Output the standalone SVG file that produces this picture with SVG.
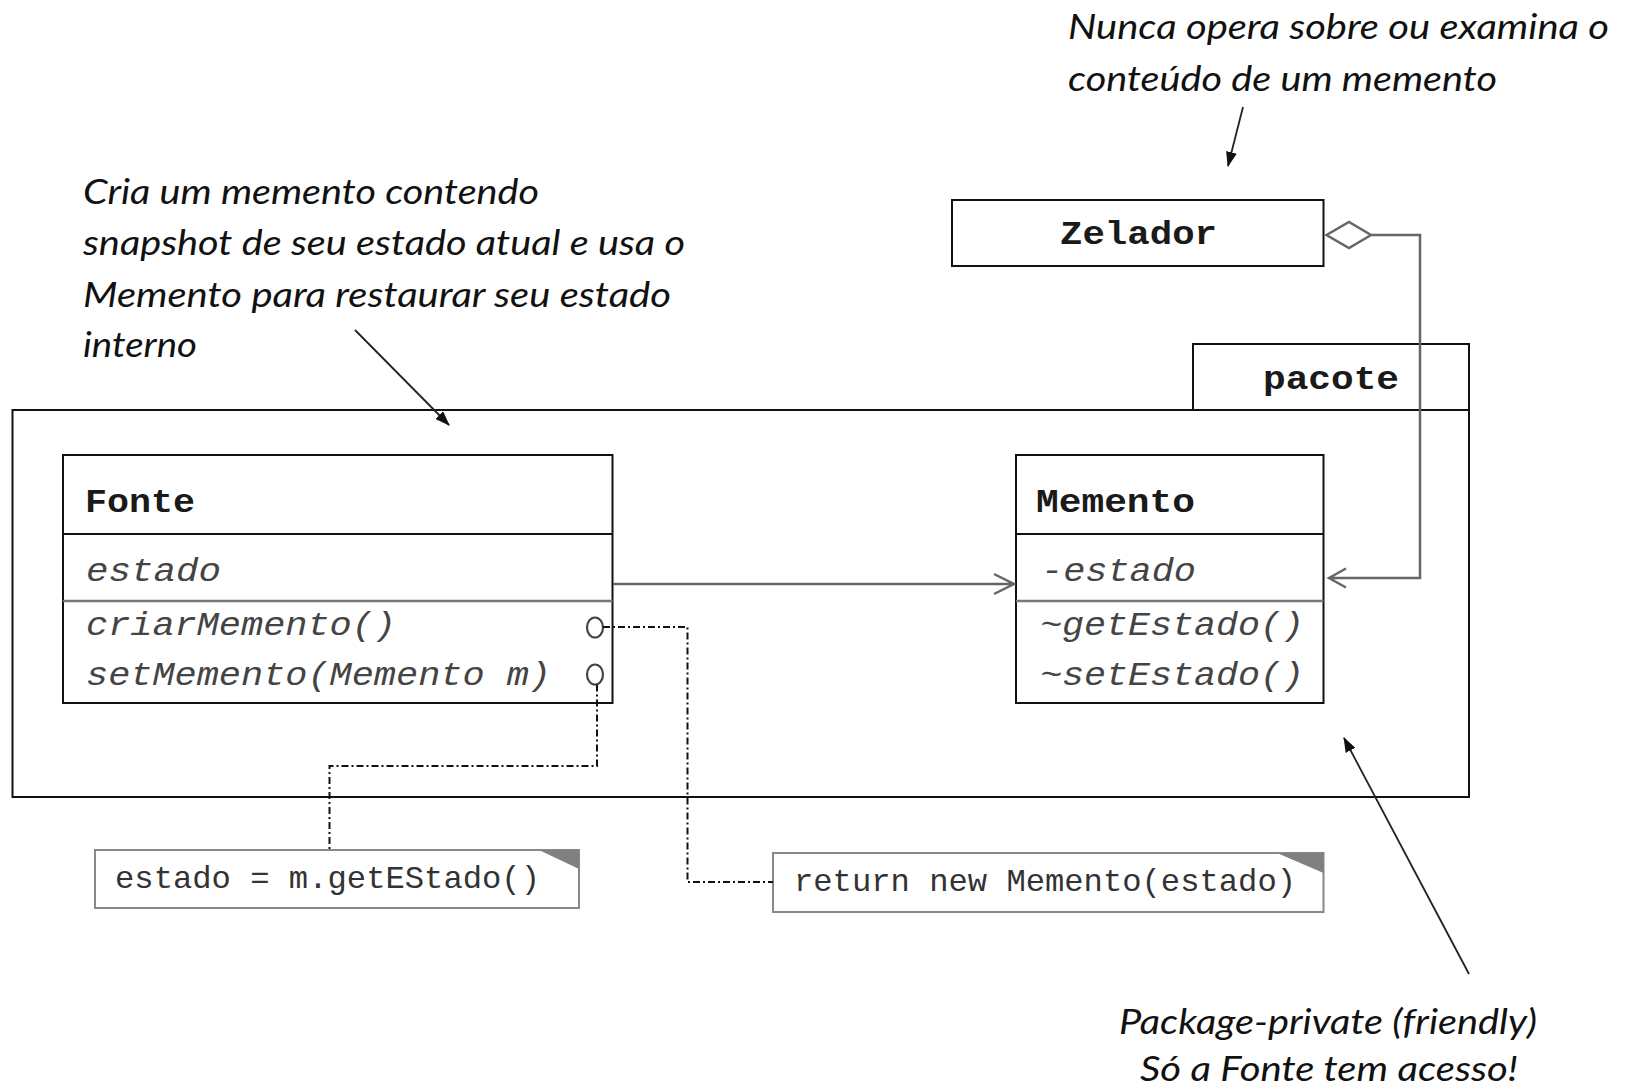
<svg xmlns="http://www.w3.org/2000/svg" width="1625" height="1088" viewBox="0 0 1625 1088">
<style>
.note{font-family:Lato,"Open Sans","Liberation Sans",sans-serif;font-style:italic;font-size:34px;fill:#111}
.hdr{font-family:"Liberation Mono","DejaVu Sans Mono",monospace;font-weight:bold;font-size:34px;fill:#1a1a1a}
.mono{font-family:"Liberation Mono","DejaVu Sans Mono",monospace;font-size:32px;fill:#333}
.it{font-family:"Liberation Mono","DejaVu Sans Mono",monospace;font-style:italic;font-size:33px;fill:#444}
.box{fill:#fff;stroke:#111;stroke-width:2}
.div{stroke:#111;stroke-width:2}
.div2{stroke:#777;stroke-width:2.5}
.nbox{fill:#fff;stroke:#888;stroke-width:2}
.fold{fill:#808080}
.conn{fill:none;stroke:#666;stroke-width:2.5}
.dd{fill:none;stroke:#111;stroke-width:2;stroke-dasharray:7 3 2 3}
.ann{fill:none;stroke:#222;stroke-width:1.8}
.anc{fill:none;stroke:#444;stroke-width:2.2}
</style>
<defs>
<marker id="fill" viewBox="0 0 15 11" refX="14" refY="5.5" markerWidth="15" markerHeight="11" markerUnits="userSpaceOnUse" orient="auto">
<path d="M0,0 L15,5.5 L0,11 Z" fill="#111"/>
</marker>
</defs>

<g id="note-top">
<text class="note" x="1068" y="39" textLength="541" lengthAdjust="spacingAndGlyphs">Nunca opera sobre ou examina o</text>
<text class="note" x="1068" y="91" textLength="429" lengthAdjust="spacingAndGlyphs">conteúdo de um memento</text>
</g>

<g id="note-left">
<text class="note" x="83" y="204" textLength="456" lengthAdjust="spacingAndGlyphs">Cria um memento contendo</text>
<text class="note" x="83" y="255" textLength="602" lengthAdjust="spacingAndGlyphs">snapshot de seu estado atual e usa o</text>
<text class="note" x="83" y="307" textLength="588" lengthAdjust="spacingAndGlyphs">Memento para restaurar seu estado</text>
<text class="note" x="83" y="357" textLength="114" lengthAdjust="spacingAndGlyphs">interno</text>
</g>

<g id="note-bottom">
<text class="note" x="1119" y="1034" textLength="418" lengthAdjust="spacingAndGlyphs">Package-private (friendly)</text>
<text class="note" x="1140" y="1081" textLength="378" lengthAdjust="spacingAndGlyphs">Só a Fonte tem acesso!</text>
</g>

<g id="pacote">
<rect class="box" x="1193" y="344" width="276" height="66"/>
<rect x="12.5" y="410" width="1456.5" height="387" fill="none" stroke="#111" stroke-width="2"/>
<text class="hdr" x="1263" y="389" textLength="136" lengthAdjust="spacingAndGlyphs">pacote</text>
</g>

<g id="zelador">
<rect class="box" x="952" y="200" width="371.5" height="66"/>
<text class="hdr" x="1060" y="244" textLength="157" lengthAdjust="spacingAndGlyphs">Zelador</text>
</g>

<g id="fonte">
<rect class="box" x="63" y="455" width="549.5" height="248"/>
<line class="div" x1="63" y1="534" x2="612.5" y2="534"/>
<line class="div2" x1="63" y1="601" x2="612.5" y2="601"/>
<text class="hdr" x="85" y="512" textLength="110" lengthAdjust="spacingAndGlyphs">Fonte</text>
<text class="it" x="86" y="581" textLength="135" lengthAdjust="spacingAndGlyphs">estado</text>
<text class="it" x="86" y="635" textLength="310" lengthAdjust="spacingAndGlyphs">criarMemento()</text>
<text class="it" x="86" y="685" textLength="465" lengthAdjust="spacingAndGlyphs">setMemento(Memento m)</text>
<ellipse class="anc" cx="595" cy="627.5" rx="8" ry="10"/>
<ellipse class="anc" cx="595" cy="674.5" rx="8" ry="10"/>
</g>

<g id="memento">
<rect class="box" x="1016" y="455" width="307.5" height="248"/>
<line class="div" x1="1016" y1="534" x2="1323.5" y2="534"/>
<line class="div2" x1="1016" y1="601" x2="1323.5" y2="601"/>
<text class="hdr" x="1036" y="512" textLength="159" lengthAdjust="spacingAndGlyphs">Memento</text>
<text class="it" x="1041" y="581" textLength="155" lengthAdjust="spacingAndGlyphs">-estado</text>
<text class="it" x="1040" y="635" textLength="264" lengthAdjust="spacingAndGlyphs">~getEstado()</text>
<text class="it" x="1040" y="685" textLength="264" lengthAdjust="spacingAndGlyphs">~setEstado()</text>
</g>

<g id="nota-set">
<rect class="nbox" x="95" y="850" width="484" height="58"/>
<polygon class="fold" points="539,850 579,850 579,869"/>
<text class="mono" x="115" y="888" textLength="425" lengthAdjust="spacingAndGlyphs">estado = m.getEStado()</text>
</g>

<g id="nota-criar">
<rect class="nbox" x="773" y="853" width="550.5" height="59"/>
<polygon class="fold" points="1277,853 1323.5,853 1323.5,873"/>
<text class="mono" x="794" y="891" textLength="502" lengthAdjust="spacingAndGlyphs">return new Memento(estado)</text>
</g>

<g id="connectors">
<path class="conn" d="M613,584 H1014 M994,574 L1014,584 L994,594"/>
<polygon points="1326.5,235 1349,222 1371,235 1349,248" fill="#fff" stroke="#666" stroke-width="2.5"/>
<path class="conn" d="M1371,235 H1420 V578 H1329 M1346,568.5 L1329,578 L1346,587.5"/>
<path class="dd" d="M603,627 H687.5 V882 H773"/>
<path class="dd" d="M597,684.5 V766 H329.5 V850"/>
<line class="ann" x1="1243" y1="107" x2="1228" y2="166" marker-end="url(#fill)"/>
<line class="ann" x1="355" y1="330" x2="449" y2="425" marker-end="url(#fill)"/>
<line class="ann" x1="1469" y1="974" x2="1344" y2="738" marker-end="url(#fill)"/>
</g>
</svg>
